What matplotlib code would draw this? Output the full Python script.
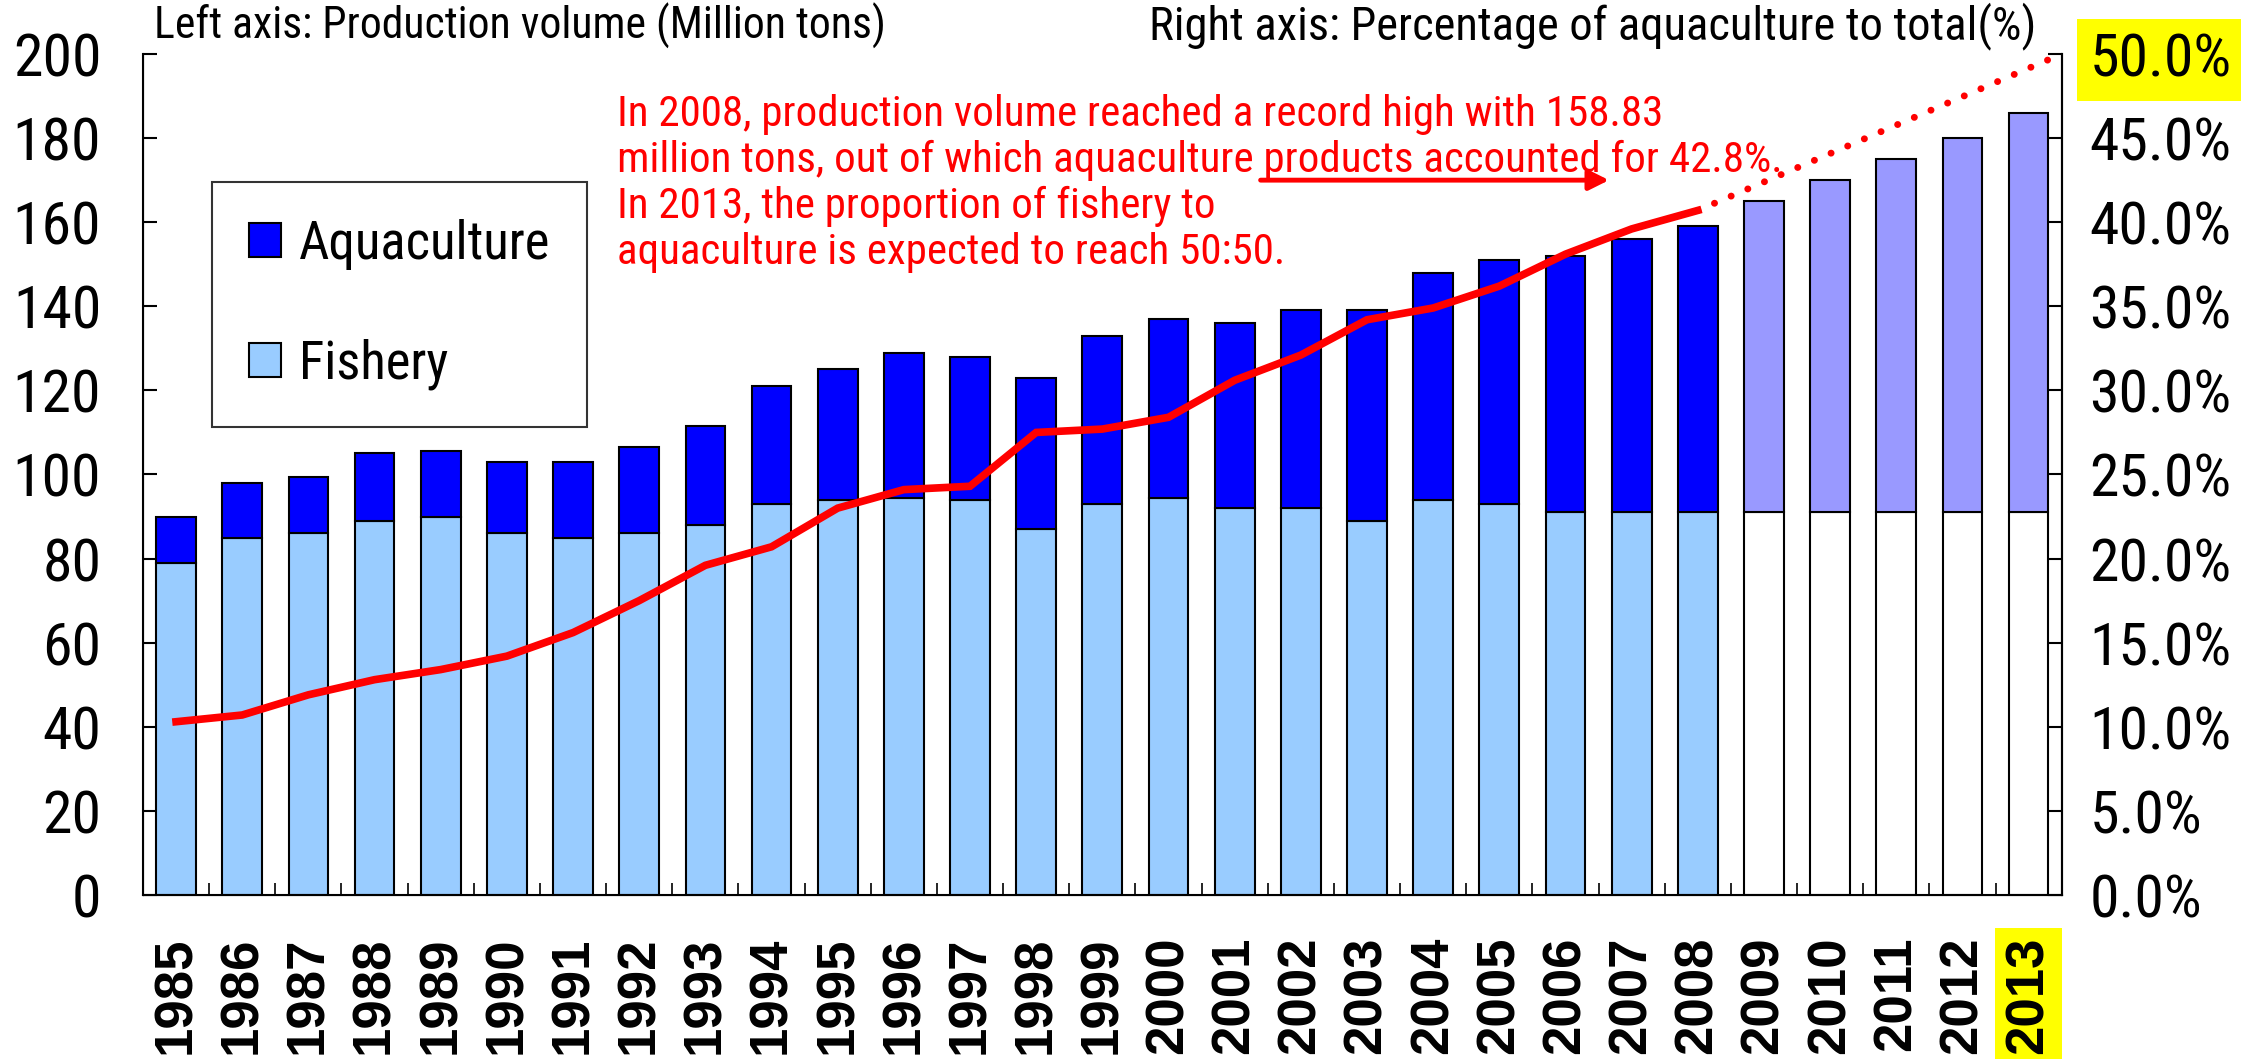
import matplotlib
matplotlib.use('Agg')
import matplotlib.pyplot as plt
from matplotlib import font_manager
from matplotlib.patches import Patch

# Source data (million tons / %)
years = ['1985', '1986', '1987', '1988', '1989', '1990', '1991', '1992', '1993', '1994',
         '1995', '1996', '1997', '1998', '1999', '2000', '2001', '2002', '2003', '2004',
         '2005', '2006', '2007', '2008', '2009', '2010', '2011', '2012', '2013']
fishery = [79, 85, 86, 89, 90, 86, 85, 86, 88, 93,
           94, 94.5, 94, 87, 93, 94.5, 92, 92, 89, 94,
           93, 91, 91, 91, 91, 91, 91, 91, 91]
aquaculture = [11, 13, 13.5, 16, 15.5, 17, 18, 20.5, 23.5, 28,
               31, 34.5, 34, 36, 40, 42.5, 44, 47, 50, 54,
               58, 61, 65, 68, 74, 79, 84, 89, 95]
n_actual = 24  # 1985-2008 actual, 2009-2013 forecast
aqua_share = [10.3, 10.7, 11.9, 12.8, 13.4, 14.2, 15.6, 17.5, 19.6, 20.7,
              23.0, 24.1, 24.3, 27.5, 27.7, 28.4, 30.6, 32.1, 34.2, 34.9,
              36.2, 38.1, 39.6, 40.7]
share_target = 50.0

names = {f.name for f in font_manager.fontManager.ttflist}
narrow = next((n for n in ['Roboto Condensed', 'Archivo Narrow', 'Liberation Sans Narrow',
                           'Barlow Condensed', 'DejaVu Sans'] if n in names), 'DejaVu Sans')
sans = 'Liberation Sans' if 'Liberation Sans' in names else 'DejaVu Sans'

fig = plt.figure(figsize=(22.41, 10.59), dpi=100)
ax = fig.add_axes([0.0638, 0.1549, 0.8562, 0.7941])
ax2 = ax.twinx()

x = list(range(len(years)))
fish_colors = ['#99ccff'] * n_actual + ['white'] * (len(years) - n_actual)
aqua_colors = ['#0000ff'] * n_actual + ['#9999ff'] * (len(years) - n_actual)
ax.bar(x, fishery, width=0.6, color=fish_colors, edgecolor='black', linewidth=1.5)
ax.bar(x, aquaculture, bottom=fishery, width=0.6, color=aqua_colors,
       edgecolor='black', linewidth=1.5)

ax.set_xlim(-0.5, len(years) - 0.5)
ax.set_ylim(0, 200)
ax.set_yticks(range(0, 201, 20))
ax.set_xticks(x)
ax.set_xticklabels(years, rotation=90, fontsize=38, fontweight='bold', family=sans)
ax.set_xticks([i + 0.5 for i in range(len(years) - 1)], minor=True)
ax.tick_params(axis='x', which='major', length=0, pad=30)
ax.tick_params(axis='x', which='minor', direction='in', length=9, width=1.2)
ax.tick_params(axis='y', direction='in', length=10, width=1.5, pad=30, labelsize=43)
for lab in ax.get_yticklabels():
    lab.set_family(narrow)
ax.spines['top'].set_visible(False)
for s in ['left', 'bottom', 'right']:
    ax.spines[s].set_linewidth(1.5)

# Right axis: aquaculture share
ax2.set_ylim(0, 50)
ax2.set_yticks(range(0, 51, 5))
ax2.set_yticklabels(['%.1f%%' % v for v in range(0, 51, 5)])
ax2.tick_params(axis='y', direction='in', length=10, width=1.5, pad=20, labelsize=43)
for lab in ax2.get_yticklabels():
    lab.set_family(narrow)
ax2.spines['top'].set_visible(False)
ax2.spines['right'].set_linewidth(1.5)
ax2.plot(x[:n_actual], aqua_share, color='red', lw=5.5, solid_joinstyle='miter')
ax2.plot([n_actual - 1, len(years) - 0.5], [aqua_share[-1], share_target], color='red',
         lw=5, linestyle=(0, (0.01, 2.6)), dash_capstyle='round')

# highlights
ax.get_xticklabels()[-1].set_bbox(dict(facecolor='yellow', edgecolor='none', pad=6))
ax2.get_yticklabels()[-1].set_bbox(dict(facecolor='yellow', edgecolor='none', pad=9))

# Legend
handles = [Patch(facecolor='#0000ff', edgecolor='black', linewidth=1.5, label='Aquaculture'),
           Patch(facecolor='#99ccff', edgecolor='black', linewidth=1.5, label='Fishery')]
leg = ax.legend(handles=handles, loc='upper left', bbox_to_anchor=(0.036, 0.848),
                prop={'family': narrow, 'size': 38}, frameon=True, fancybox=False,
                borderpad=0.7, labelspacing=1.3, handlelength=0.6, handleheight=0.6,
                handletextpad=0.35, borderaxespad=0)
leg.get_frame().set_edgecolor('black')
leg.get_frame().set_linewidth(1.5)

# Axis captions
fig.text(154 / 2241, 1 - 26 / 1059, 'Left axis: Production volume (Million tons)',
         fontsize=31.5, family=narrow, va='center', ha='left')
fig.text(2036 / 2241, 1 - 26 / 1059, 'Right axis: Percentage of aquaculture to total(%)',
         fontsize=33.5, family=narrow, va='center', ha='right')

# Annotation
note = ('In 2008, production volume reached a record high with 158.83\n'
        'million tons, out of which aquaculture products accounted for 42.8%.\n'
        'In 2013, the proportion of fishery to\n'
        'aquaculture is expected to reach 50:50.')
fig.text(617 / 2241, 1 - 94 / 1059, note, color='red', fontsize=31, family=narrow,
         va='top', ha='left', linespacing=1.15)
ax.annotate('', xy=(21.7, 170), xytext=(16.35, 170),
            arrowprops=dict(arrowstyle='-|>', color='red', lw=3.5, mutation_scale=30))

fig.savefig('out.png', dpi=100)
